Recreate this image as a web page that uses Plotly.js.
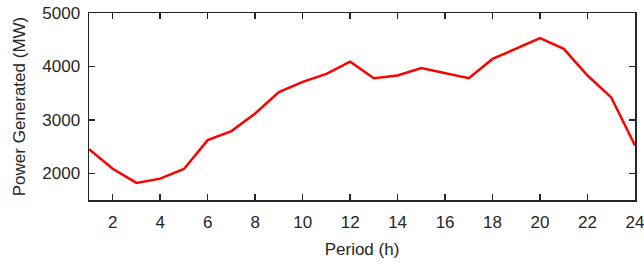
<!DOCTYPE html>
<html>
<head>
<meta charset="utf-8">
<script src="https://cdn.plot.ly/plotly-3.0.1.min.js"></script>
<style>html,body{margin:0;padding:0;background:#fff;}#chart{width:644px;height:262px;}</style>
</head>
<body>
<div id="chart"></div>
<script>
const periods = [1,2,3,4,5,6,7,8,9,10,11,12,13,14,15,16,17,18,19,20,21,22,23,24];
const power = [2450,2085,1820,1900,2080,2620,2790,3120,3520,3710,3860,4090,3780,3830,3970,3880,3780,4140,4340,4530,4330,3830,3420,2520];
const xTicks = [2,4,6,8,10,12,14,16,18,20,22,24];
const yTicks = [2000,3000,4000,5000];

const fontFam = 'Liberation Sans, Arial, sans-serif';
const axisCommon = {
  showgrid: false, zeroline: false, showline: true, mirror: 'ticks',
  linecolor: '#262626', linewidth: 1.5, ticks: 'inside', ticklen: 6,
  tickwidth: 1.5, tickcolor: '#262626',
  tickfont: {family: fontFam, size: 17, color: '#262626'},
  ticklabeloverflow: 'allow'
};

Plotly.newPlot('chart', [{
  x: periods, y: power, type: 'scatter', mode: 'lines',
  line: {color: '#ff0000', width: 2.5}, hoverinfo: 'none'
}], {
  width: 644, height: 262,
  margin: {l: 89, r: 9, t: 13, b: 62},
  paper_bgcolor: '#fff', plot_bgcolor: '#fff',
  showlegend: false,
  xaxis: Object.assign({}, axisCommon, {
    range: [1, 24], tickvals: xTicks, ticktext: xTicks.map(String),
    ticklabelstandoff: 6,
    title: {text: 'Period (h)', font: {family: fontFam, size: 17, color: '#262626'}, standoff: 12}
  }),
  yaxis: Object.assign({}, axisCommon, {
    range: [1500, 5000], tickvals: yTicks, ticktext: yTicks.map(String),
    ticklabelstandoff: 4,
    title: {text: 'Power Generated (MW)', font: {family: fontFam, size: 17, color: '#262626'}, standoff: 12}
  })
}, {staticPlot: true});
</script>
</body>
</html>
